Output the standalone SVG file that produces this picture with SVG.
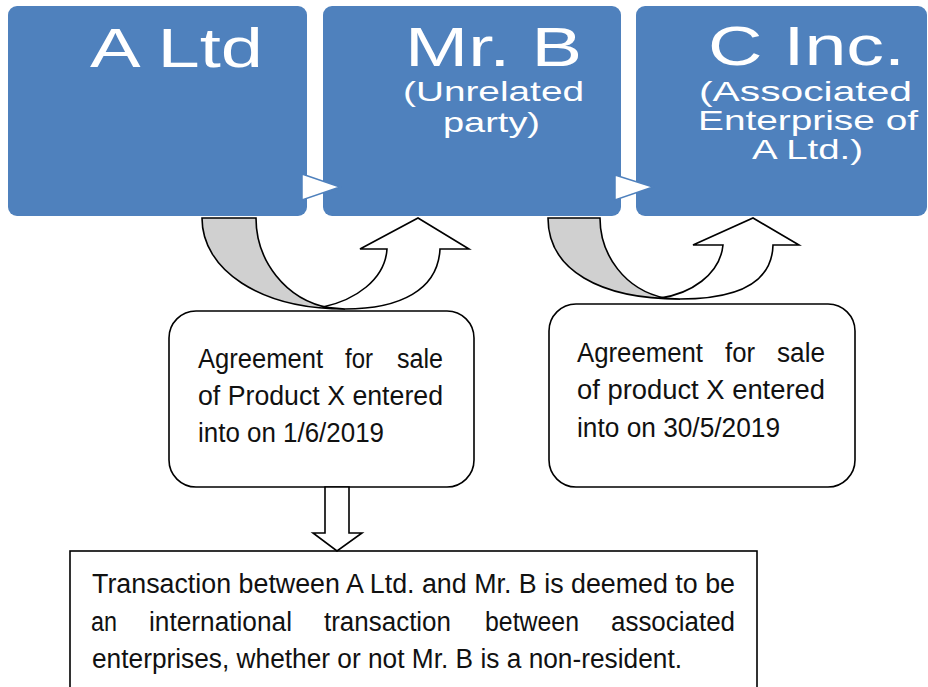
<svg xmlns="http://www.w3.org/2000/svg" width="928" height="687" viewBox="0 0 928 687">
  <style>
    .party { fill: #4f81bd; }
    .title { font-family: "Liberation Sans", Arial, sans-serif; fill: #ffffff; font-size: 55px; }
    .sub { font-family: "Liberation Sans", Arial, sans-serif; fill: #ffffff; font-size: 28px; }
    .body { font-family: "Liberation Sans", Arial, sans-serif; fill: #111111; font-size: 27px; }
    .outline { fill: #ffffff; stroke: #000000; stroke-width: 1.6; stroke-linejoin: miter; }
    .back { fill: #d0d0d0; stroke: #000000; stroke-width: 1.6; }
    .flow { fill: #ffffff; stroke: #4f81bd; stroke-width: 1.5; }
  </style>

  <rect width="928" height="687" fill="#ffffff"/>

  <!-- parties -->
  <g id="node-a-ltd">
    <rect class="party" x="8" y="6" width="299" height="210" rx="9"/>
    <text class="title" x="90" y="67" textLength="173" lengthAdjust="spacingAndGlyphs">A Ltd</text>
  </g>
  <g id="node-mr-b">
    <rect class="party" x="323" y="6" width="298" height="210" rx="9"/>
    <text class="title" x="405" y="66" textLength="177" lengthAdjust="spacingAndGlyphs">Mr. B</text>
    <text class="sub" x="403" y="101" textLength="181" lengthAdjust="spacingAndGlyphs">(Unrelated</text>
    <text class="sub" x="443" y="132" textLength="97" lengthAdjust="spacingAndGlyphs">party)</text>
  </g>
  <g id="node-c-inc">
    <rect class="party" x="636" y="6" width="291" height="210" rx="9"/>
    <text class="title" x="708" y="65" textLength="197" lengthAdjust="spacingAndGlyphs">C Inc.</text>
    <text class="sub" x="699" y="101" textLength="213" lengthAdjust="spacingAndGlyphs">(Associated</text>
    <text class="sub" x="698" y="130" textLength="220" lengthAdjust="spacingAndGlyphs">Enterprise of</text>
    <text class="sub" x="752" y="159" textLength="111" lengthAdjust="spacingAndGlyphs">A Ltd.)</text>
  </g>

  <!-- agreements -->
  <g id="node-agreement-1">
    <rect class="outline" x="169" y="311" width="305" height="176" rx="27"/>
    <text class="body" y="368">
      <tspan x="198" textLength="125" lengthAdjust="spacingAndGlyphs">Agreement</tspan>
      <tspan x="345" textLength="28" lengthAdjust="spacingAndGlyphs">for</tspan>
      <tspan x="397" textLength="46" lengthAdjust="spacingAndGlyphs">sale</tspan>
    </text>
    <text class="body" x="198" y="405" textLength="245" lengthAdjust="spacingAndGlyphs">of Product X entered</text>
    <text class="body" x="198" y="442" textLength="186" lengthAdjust="spacingAndGlyphs">into on 1/6/2019</text>
  </g>
  <g id="node-agreement-2">
    <rect class="outline" x="549" y="304" width="306" height="183" rx="27"/>
    <text class="body" y="362">
      <tspan x="577" textLength="126" lengthAdjust="spacingAndGlyphs">Agreement</tspan>
      <tspan x="725" textLength="30" lengthAdjust="spacingAndGlyphs">for</tspan>
      <tspan x="777" textLength="48" lengthAdjust="spacingAndGlyphs">sale</tspan>
    </text>
    <text class="body" x="577" y="399" textLength="248" lengthAdjust="spacingAndGlyphs">of product X entered</text>
    <text class="body" x="577" y="437" textLength="203" lengthAdjust="spacingAndGlyphs">into on 30/5/2019</text>
  </g>

  <!-- conclusion -->
  <g id="node-conclusion">
    <rect class="outline" x="70" y="551" width="687" height="150"/>
    <text class="body" x="92" y="593" textLength="643" lengthAdjust="spacingAndGlyphs">Transaction between A Ltd. and Mr. B is deemed to be</text>
    <text class="body" y="631">
      <tspan x="91" textLength="26" lengthAdjust="spacingAndGlyphs">an</tspan>
      <tspan x="149" textLength="143" lengthAdjust="spacingAndGlyphs">international</tspan>
      <tspan x="324" textLength="127" lengthAdjust="spacingAndGlyphs">transaction</tspan>
      <tspan x="485" textLength="94" lengthAdjust="spacingAndGlyphs">between</tspan>
      <tspan x="611" textLength="124" lengthAdjust="spacingAndGlyphs">associated</tspan>
    </text>
    <text class="body" x="92" y="668" textLength="590" lengthAdjust="spacingAndGlyphs">enterprises, whether or not Mr. B is a non-resident.</text>
  </g>

  <!-- connectors -->
  <g id="connectors">
    <!-- flow chevrons between parties -->
    <polygon class="flow" points="302,174 340,187 302,200"/>
    <polygon class="flow" points="615,175 653,187 615,200"/>

    <!-- curved arrow: A Ltd to Mr. B -->
    <path class="back" d="M 202,218 L 256,218 C 256,260 285,300 330,308 L 345,309 C 260,309 202,270 202,218 Z"/>
    <path class="outline" d="M 323,307 C 355,300 385,280 387,249 L 360,249 L 418,218 L 469,249 L 440,249 C 438,290 400,309 345,309 Z"/>

    <!-- curved arrow: Mr. B to C Inc. -->
    <path class="back" d="M 548,218 L 600,218 C 600,255 625,290 665,298 L 680,299 C 600,299 548,270 548,218 Z"/>
    <path class="outline" d="M 660,298 C 690,294 720,275 723,245 L 693,245 L 753,218 L 799,245 L 773,245 C 772,285 735,299 680,299 Z"/>

    <!-- block arrow down to conclusion -->
    <polygon class="outline" points="325,487 349,487 349,533 362,533 337,551 313,533 325,533"/>
  </g>
</svg>
